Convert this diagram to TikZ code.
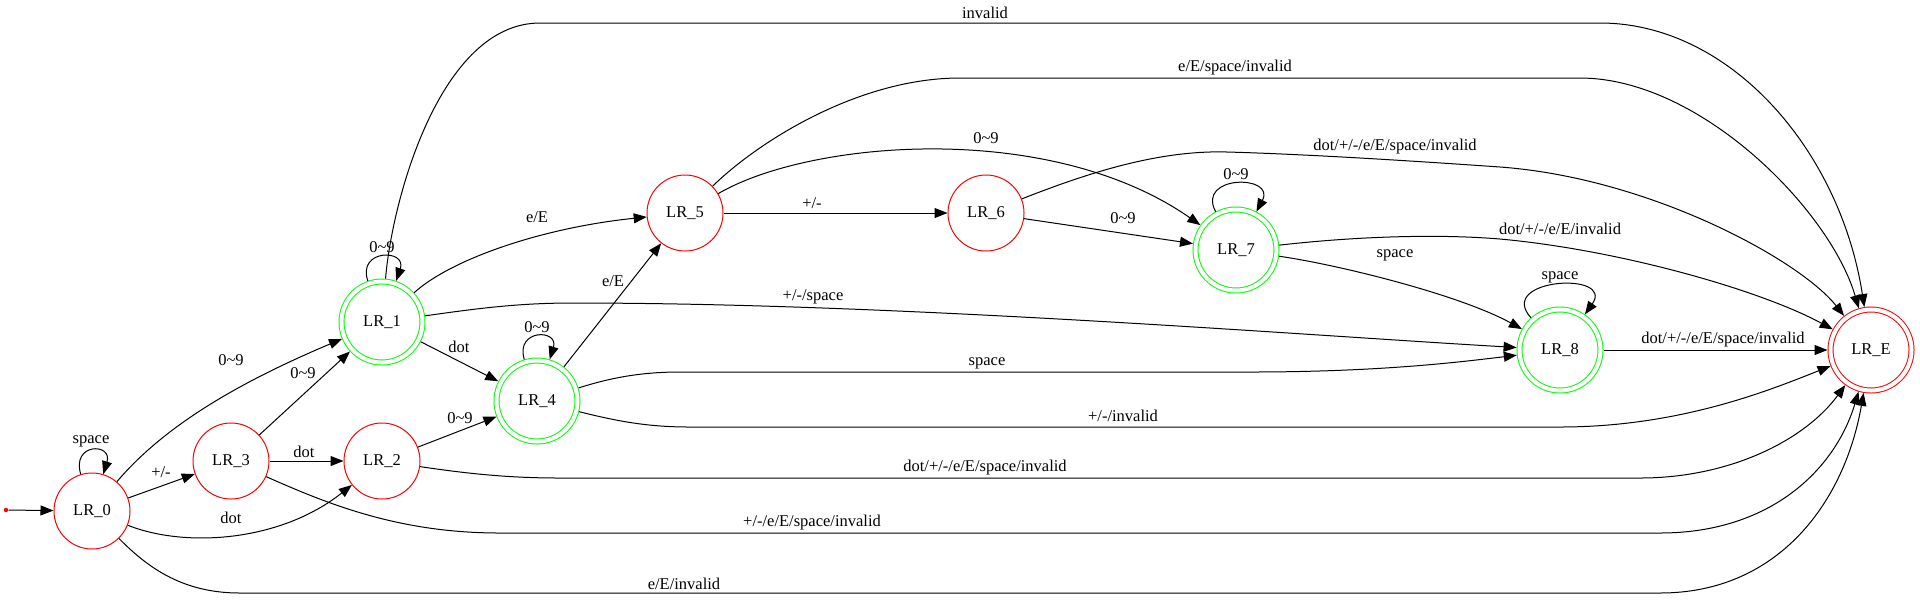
\documentclass[tikz,border=0pt]{standalone}
\usepackage{fontspec}
\setmainfont{Liberation Serif}
\usetikzlibrary{arrows.meta}
\definecolor{accgreen}{RGB}{0,255,0}
\definecolor{errred}{RGB}{255,0,0}
\newcommand{\dig}{0\textasciitilde 9}
\tikzset{
  lrstate/.style={circle, draw=errred, line width=0.5pt, minimum size=38pt, inner sep=0pt, font=\fontsize{8.25}{10}\selectfont},
  accept/.style={lrstate, draw=accgreen, double, double distance=2pt, minimum size=40.5pt, outer sep=1.5pt},
  trap/.style={accept, draw=errred},
  lbl/.style={inner sep=0pt, font=\fontsize{8.25}{10}\selectfont},
  trans/.style={->, line width=0.5pt},
  >={Triangle[length=6.5pt,width=5pt]}
}
\begin{document}
\begin{tikzpicture}[x=0.5pt,y=-0.5pt]
\useasboundingbox (0,0) rectangle (1920,602);
\node[circle, fill=errred, inner sep=0pt, minimum size=2.2pt] (start) at (6,510) {};
\node[lrstate] (LR0) at (92,511) {LR\_0};
\node[lrstate] (LR3) at (231,461) {LR\_3};
\node[lrstate] (LR2) at (382,461) {LR\_2};
\node[accept] (LR1) at (382,322) {LR\_1};
\node[accept] (LR4) at (537,401) {LR\_4};
\node[lrstate] (LR5) at (685,213) {LR\_5};
\node[lrstate] (LR6) at (986,213) {LR\_6};
\node[accept] (LR7) at (1236,250) {LR\_7};
\node[accept] (LR8) at (1560,350) {LR\_8};
\node[trap] (LRE) at (1871,350) {LR\_E};
\draw[trans] (start) -- (LR0);
\draw[trans] (LR0.107) .. controls +(107:16.5pt) and +(73:16.5pt) .. (LR0.73) node[lbl] (t00) at (91,441) {space};
\draw[trans] (LR0) -- (LR3) node[lbl] (t03) at (161,472) {+/-};
\draw[trans] (LR0) .. controls (165,425) and (240,382) .. (LR1) node[lbl] (t01) at (231,360) {\dig};
\draw[trans] (LR0) .. controls (185,548) and (280,542) .. (LR2) node[lbl] (t02) at (231,518) {dot};
\draw[trans] (LR0) .. controls (150,570) and (185,593) .. (240,593) -- (1660,593) .. controls (1780,593) and (1845,500) .. (LRE) node[lbl] (t0E) at (684,584) {e/E/invalid};
\draw[trans] (LR3) -- (LR1) node[lbl] (t31) at (303,373) {\dig};
\draw[trans] (LR3) -- (LR2) node[lbl] (t32) at (304,452) {dot};
\draw[trans] (LR3) .. controls (330,505) and (400,533) .. (500,533) -- (1660,533) .. controls (1770,533) and (1835,470) .. (LRE) node[lbl] (t3E) at (812,523) {+/-/e/E/space/invalid};
\draw[trans] (LR2) -- (LR4) node[lbl] (t24) at (460,418) {\dig};
\draw[trans] (LR2) .. controls (470,474) and (510,478) .. (560,478) -- (1640,478) .. controls (1730,478) and (1805,440) .. (LRE) node[lbl] (t2E) at (985,468) {dot/+/-/e/E/space/invalid};
\draw[trans] (LR1.109) .. controls +(109:17pt) and +(71:17pt) .. (LR1.71) node[lbl] (t11) at (382,247) {\dig};
\draw[trans] (LR1) .. controls (450,260) and (540,228) .. (LR5) node[lbl] (t15) at (537,217) {e/E};
\draw[trans] (LR1) -- (LR4) node[lbl] (t14) at (459,347) {dot};
\draw[trans] (LR1) .. controls (480,308) and (520,303) .. (573,303) .. controls (900,303) and (1300,335) .. (LR8) node[lbl] (t18) at (813,297) {+/-/space};
\draw[trans] (LR1) .. controls (392,200) and (440,23) .. (540,23) -- (1600,23) .. controls (1730,23) and (1840,150) .. (LRE) node[lbl] (t1E) at (985,13) {invalid};
\draw[trans] (LR4.107) .. controls +(107:16pt) and +(73:16pt) .. (LR4.73) node[lbl] (t44) at (537,327) {\dig};
\draw[trans] (LR4) -- (LR5) node[lbl] (t45) at (613,281) {e/E};
\draw[trans] (LR4) .. controls (610,378) and (640,372) .. (680,372) -- (1250,372) .. controls (1380,372) and (1460,362) .. (LR8) node[lbl] (t48) at (987,363) {space};
\draw[trans] (LR4) .. controls (620,422) and (650,427) .. (690,427) -- (1560,427) .. controls (1680,427) and (1770,390) .. (LRE) node[lbl] (t4E) at (1123,416) {+/-/invalid};
\draw[trans] (LR5) -- (LR6) node[lbl] (t56) at (812,203) {+/-};
\draw[trans] (LR5) .. controls (810,140) and (1050,120) .. (LR7) node[lbl] (t57) at (986,138) {\dig};
\draw[trans] (LR5) .. controls (760,140) and (860,78) .. (960,78) -- (1580,78) .. controls (1700,78) and (1830,210) .. (LRE) node[lbl] (t5E) at (1235,68) {e/E/space/invalid};
\draw[trans] (LR6) -- (LR7) node[lbl] (t67) at (1123,218) {\dig};
\draw[trans] (LR6) .. controls (1090,172) and (1160,150) .. (1227,152) .. controls (1300,154) and (1400,160) .. (1500,167) .. controls (1650,178) and (1800,260) .. (LRE) node[lbl] (t6E) at (1395,147) {dot/+/-/e/E/space/invalid};
\draw[trans] (LR7.118) .. controls +(118:21pt) and +(62:21pt) .. (LR7.62) node[lbl] (t77) at (1236,174) {\dig};
\draw[trans] (LR7) .. controls (1340,265) and (1460,295) .. (LR8) node[lbl] (t78) at (1395,255) {space};
\draw[trans] (LR7) .. controls (1360,236) and (1440,234) .. (1500,239) .. controls (1620,250) and (1760,290) .. (LRE) node[lbl] (t7E) at (1560,229) {dot/+/-/e/E/invalid};
\draw[trans] (LR8.132) .. controls +(132:26.5pt) and +(55:26.5pt) .. (LR8.55) node[lbl] (t88) at (1560,277) {space};
\draw[trans] (LR8) -- (LRE) node[lbl] (t8E) at (1723,340) {dot/+/-/e/E/space/invalid};
\end{tikzpicture}
\end{document}
